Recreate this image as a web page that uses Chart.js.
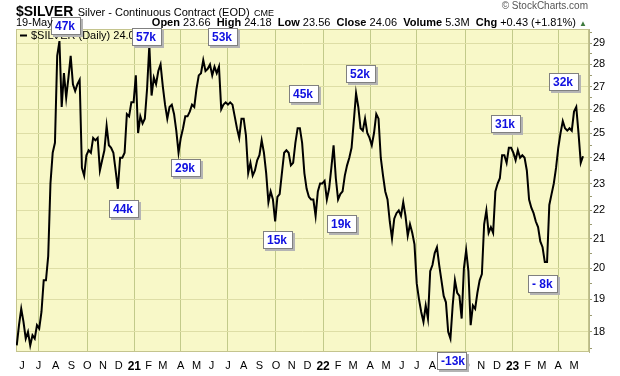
<!DOCTYPE html>
<html>
<head>
<meta charset="utf-8">
<script src="https://cdn.jsdelivr.net/npm/chart.js@4.4.0/dist/chart.umd.min.js"></script>
<style>
  html, body { margin: 0; padding: 0; background: #fff; }
  #wrap { position: relative; width: 620px; height: 376px; font-family: Arial, "Liberation Sans", sans-serif; color: #000; }
  #wrap canvas { position: absolute; left: 0; top: 0; }
  .hd { position: absolute; white-space: nowrap; line-height: 1; }
  .hd b { font-weight: bold; }
</style>
</head>
<body>
<div id="wrap">
  <canvas id="silverChart" width="620" height="376"></canvas>
  <div class="hd" style="left:16px; top:3px;"><b style="font-size:14px">$SILVER</b> <span style="font-size:11px">Silver - Continuous Contract (EOD)</span> <span style="font-size:9px">CME</span></div>
  <div class="hd" style="right:32px; top:1px; font-size:10px; color:#555;">© StockCharts.com</div>
  <div class="hd" style="left:16px; top:17px; font-size:11px;">19-May</div>
  <div class="hd" style="right:33px; top:17px; font-size:11px;"><b>Open</b> 23.66&nbsp; <b>High</b> 24.18&nbsp; <b>Low</b> 23.56&nbsp; <b>Close</b> 24.06&nbsp; <b>Volume</b> 5.3M&nbsp; <b>Chg</b> +0.43 (+1.81%) <span style="font-size:8px; color:#3d7a3d;">▲</span></div>
</div>
<script>
// closes sampled every 3rd session, 20-May-2020 .. 19-May-2023
const sessionStep = 3;
const closes = [
  17.6, 18.2, 18.7, 18.3, 17.8, 18.0, 17.6, 17.9, 17.8, 18.2,
  18.1, 18.6, 19.6, 19.6, 20.4, 23.0, 24.2, 24.6, 28.4, 29.1,
  26.1, 27.6, 26.5, 27.4, 28.4, 27.1, 26.8, 27.1, 27.3, 23.6,
  23.3, 24.1, 24.3, 24.2, 24.8, 24.7, 24.8, 23.5, 23.9, 24.3,
  25.3, 24.5, 24.4, 24.2, 23.5, 22.8, 24.0, 24.0, 24.2, 25.8,
  25.7, 26.3, 26.3, 27.5, 25.0, 25.7, 25.4, 25.6, 26.9, 28.9,
  26.6, 27.4, 27.1, 27.7, 28.0, 27.0, 26.2, 25.6, 26.1, 26.2,
  25.8, 25.1, 24.2, 24.8, 25.2, 25.7, 25.7, 25.9, 26.2, 26.1,
  26.9, 27.5, 27.6, 28.2, 27.7, 27.8, 28.0, 27.5, 27.9, 27.6,
  27.9, 26.0, 26.2, 26.3, 26.2, 26.3, 26.2, 25.7, 25.2, 24.8,
  25.6, 25.6, 24.9, 23.4, 23.8, 23.3, 23.5, 23.9, 24.1, 24.7,
  24.2, 23.4, 22.3, 22.7, 22.4, 21.6, 22.5, 22.6, 23.4, 24.2,
  24.3, 24.2, 23.7, 23.8, 24.6, 25.2, 25.2, 24.6, 23.4, 22.8,
  22.5, 22.4, 22.4, 21.8, 22.7, 23.0, 23.0, 23.1, 22.4, 22.8,
  23.6, 24.5, 23.2, 22.4, 22.6, 22.7, 23.3, 23.7, 24.0, 24.4,
  25.5, 26.7, 26.1, 25.2, 25.1, 25.6, 25.0, 24.8, 24.5, 25.0,
  25.8, 25.6, 24.0, 23.3, 22.7, 22.4, 21.6, 21.0, 21.7, 21.9,
  22.0, 21.8, 22.3, 21.8, 21.1, 21.5, 21.2, 20.8, 19.5, 19.0,
  18.6, 18.3, 18.8, 18.4, 19.9, 20.1, 20.5, 20.7, 20.1, 19.6,
  19.1, 18.9, 18.0, 17.8, 18.8, 19.6, 19.2, 19.1, 18.4, 20.0,
  20.6, 19.9, 18.2, 18.8, 18.7, 19.2, 19.6, 19.8, 21.5, 22.0,
  21.2, 21.4, 21.2, 22.7, 23.0, 23.2, 24.1, 24.1, 23.8, 24.4,
  24.4, 24.2, 23.9, 24.3, 24.0, 24.1, 24.0, 23.5, 22.4, 22.1,
  21.9, 21.6, 21.4, 20.9, 20.7, 20.2, 20.2, 22.2, 22.6, 23.0,
  23.6, 24.4, 25.0, 25.5, 25.2, 25.1, 25.2, 25.1, 25.9, 26.1,
  25.0, 23.8, 24.06
];

// month labels and the session number where each month starts
const monthLabels = ['J','J','A','S','O','N','D','21','F','M','A','M','J','J','A','S','O','N','D','22','F','M','A','M','J','J','A','S','O','N','D','23','F','M','A','M'];
const monthSessions = [7, 29, 52, 73, 94, 115, 136, 157, 176, 195, 219, 240, 260, 282, 303, 324, 346, 367, 388, 409, 429, 449, 472, 493, 514, 534, 555, 577, 599, 620, 641, 662, 682, 701, 723, 744];

const priceTicks = [18, 19, 20, 21, 22, 23, 24, 25, 26, 27, 28, 29];
const minorPriceTicks = [17.5, 18.5, 19.5, 20.5, 21.5, 22.5, 23.5, 24.5, 25.5, 26.5, 27.5, 28.5, 29.5];

// open interest notes
const noteLabels = ['47k', '57k', '53k', '44k', '29k', '15k', '45k', '52k', '19k', '-13k', '31k', '- 8k', '32k'];
const noteSessions = [66, 174, 275, 143, 226, 349, 384, 459, 434, 581, 653, 703, 731];
const notePrices = [29.84, 29.30, 29.28, 22.05, 23.61, 20.95, 26.67, 27.57, 21.51, 17.15, 25.38, 19.48, 27.22];

const points = closes.map((c, i) => ({ x: i * sessionStep, y: c }));

const plotBg = {
  id: 'plotBg',
  beforeDraw(chart) {
    const { ctx, chartArea: a } = chart;
    ctx.save();
    ctx.fillStyle = '#f8f8c8';
    ctx.fillRect(a.left, a.top, a.right - a.left, a.bottom - a.top);
    ctx.restore();
  },
  beforeDatasetsDraw(chart) {
    const { ctx, chartArea: a } = chart;
    ctx.save();
    ctx.strokeStyle = '#c4c48e';
    ctx.lineWidth = 1;
    ctx.strokeRect(a.left + 0.5, a.top + 0.5, a.right - a.left - 1, a.bottom - a.top - 1);
    ctx.restore();
  }
};

const legendAndNotes = {
  id: 'legendAndNotes',
  afterDraw(chart) {
    const { ctx, chartArea: a, scales } = chart;
    ctx.save();
    // series legend
    ctx.strokeStyle = '#000';
    ctx.lineWidth = 2;
    ctx.beginPath();
    ctx.moveTo(a.left + 4, a.top + 6.5);
    ctx.lineTo(a.left + 11, a.top + 6.5);
    ctx.stroke();
    ctx.fillStyle = '#000';
    ctx.font = '11px Arial, "Liberation Sans", sans-serif';
    ctx.textBaseline = 'middle';
    ctx.fillText('$SILVER (Daily) 24.06', a.left + 15, a.top + 7);

    // note boxes
    const w = 30, h = 18;
    ctx.font = 'bold 12px Arial, "Liberation Sans", sans-serif';
    noteLabels.forEach((t, i) => {
      const cx = scales.x.getPixelForValue(noteSessions[i]);
      const cy = scales.y.getPixelForValue(notePrices[i]);
      const l = Math.round(cx - w / 2), tp = Math.round(cy - h / 2);
      ctx.fillStyle = '#b4b4b4';
      ctx.fillRect(l + 2, tp + 2, w, h);
      ctx.fillStyle = '#fff';
      ctx.fillRect(l, tp, w, h);
      ctx.strokeStyle = '#808080';
      ctx.lineWidth = 1;
      ctx.strokeRect(l + 0.5, tp + 0.5, w - 1, h - 1);
      ctx.fillStyle = '#1010e0';
      ctx.fillText(t, l + 4, tp + h / 2 + 1);
    });
    ctx.restore();
  }
};

new Chart(document.getElementById('silverChart'), {
  type: 'line',
  data: {
    datasets: [{
      data: points,
      borderColor: '#000',
      borderWidth: 2,
      pointRadius: 0,
      tension: 0,
      fill: false
    }]
  },
  options: {
    responsive: false,
    animation: false,
    layout: { padding: { left: 16, top: 29, right: 0, bottom: 0 } },
    plugins: { legend: { display: false }, tooltip: { enabled: false } },
    scales: {
      x: {
        type: 'linear',
        min: -1,
        max: 764,
        afterBuildTicks: s => { s.ticks = monthSessions.map(v => ({ value: v })); },
        afterFit: s => { s.height = 24; },
        grid: {
          color: c => (c.index % 3 === 1 ? '#c2ca8a' : 'rgba(0,0,0,0)'),
          drawTicks: false
        },
        border: { display: false },
        ticks: {
          autoSkip: false,
          maxRotation: 0,
          padding: 7,
          color: '#000',
          font: c => (/\d/.test(monthLabels[c.index]) ? { size: 12, weight: 'bold' } : { size: 11 }),
          callback: (v, i) => monthLabels[i]
        }
      },
      y: {
        type: 'logarithmic',
        position: 'right',
        min: 17.41,
        max: 29.69,
        afterBuildTicks: s => {
          s.ticks = priceTicks.concat(minorPriceTicks).sort((p, q) => p - q).map(v => ({ value: v }));
        },
        afterFit: s => { s.width = 31; },
        grid: {
          color: c => (Number.isInteger(c.tick.value) ? '#dedea6' : 'rgba(0,0,0,0)'),
          tickColor: '#9a9a70',
          tickLength: 3
        },
        border: { display: true, color: '#b8b888' },
        ticks: {
          autoSkip: false,
          padding: 1,
          color: '#000',
          font: { size: 11 },
          callback: v => (Number.isInteger(v) ? String(v) : '')
        }
      }
    }
  },
  plugins: [plotBg, legendAndNotes]
});
</script>
</body>
</html>
